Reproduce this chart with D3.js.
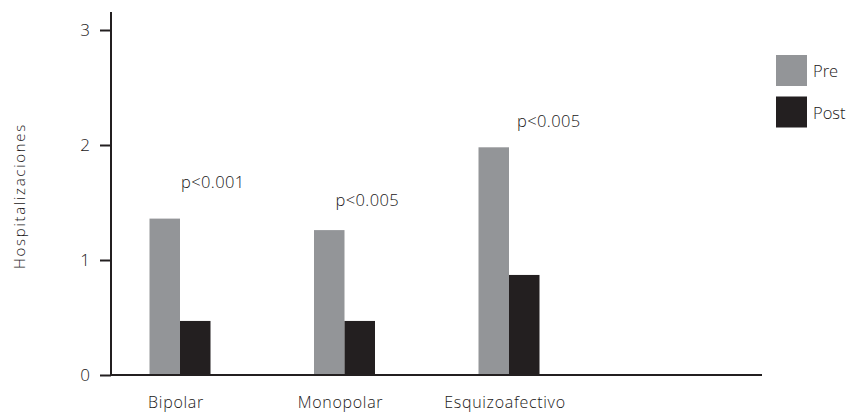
<!DOCTYPE html>
<html>
<head>
<meta charset="utf-8">
<script src="https://cdn.jsdelivr.net/npm/d3@7/dist/d3.min.js"></script>
<style>
  html, body { margin: 0; padding: 0; background: #fff; }
  svg { display: block; }
  text { font-family: "Open Sans", "DejaVu Sans", sans-serif; font-weight: 300; fill: #1a1718; }
</style>
</head>
<body>
<svg id="chart" width="851" height="412"></svg>
<script>
// Mean hospitalisations before and after treatment, by diagnosis
const categories = ["Bipolar", "Monopolar", "Esquizoafectivo"];
const series = ["Pre", "Post"];
const preValues = [1.36, 1.26, 1.98];
const postValues = [0.47, 0.47, 0.87];
const pLabels = ["p<0.001", "p<0.005", "p<0.005"];
const pLabelLevels = [1.63, 1.47, 2.16];
const yTicks = [0, 1, 2, 3];
const yTitle = "Hospitalizaciones";

const colors = { Pre: "#939598", Post: "#231f20" };

// Horizontal nudges for the significance labels, relative to each group centre
const pLabelDx = [1, -9, 8];

const svg = d3.select("#chart");
const plot = { left: 111, right: 762, top: 12, bottom: 375 };

const y = d3.scaleLinear().domain([0, 3]).range([plot.bottom, 30]);

// Three groups spaced evenly, with room left over at the right end of the axis
const step = 164.5;
const x = d3.scaleBand()
  .domain(categories)
  .range([180 - step / 2, 180 - step / 2 + step * categories.length])
  .paddingInner(0).paddingOuter(0);
const xSub = d3.scaleBand().domain(series).range([0, 61]).padding(0);
const centre = c => x(c) + x.bandwidth() / 2;

const rows = categories.map((c, i) => ({ cat: c, Pre: preValues[i], Post: postValues[i] }));

// Bars
const groups = svg.append("g").selectAll("g")
  .data(rows).join("g")
  .attr("transform", d => `translate(${centre(d.cat) - 30.5},0)`);

groups.selectAll("rect")
  .data(d => series.map(s => ({ key: s, value: d[s] })))
  .join("rect")
  .attr("x", d => xSub(d.key))
  .attr("width", xSub.bandwidth())
  .attr("y", d => y(d.value))
  .attr("height", d => y(0) - y(d.value))
  .attr("fill", d => colors[d.key]);

// Significance labels
svg.append("g").selectAll("text")
  .data(categories.map((c, i) => ({ cat: c, label: pLabels[i], level: pLabelLevels[i], dx: pLabelDx[i] })))
  .join("text")
  .attr("x", d => centre(d.cat) + d.dx)
  .attr("y", d => y(d.level))
  .attr("text-anchor", "start")
  .attr("font-size", 16.5)
  .attr("letter-spacing", 0.4)
  .text(d => d.label);

// Y axis
const yAxis = svg.append("g")
  .attr("transform", `translate(${plot.left},0)`)
  .call(d3.axisLeft(y).tickValues(yTicks).tickFormat(d3.format("d")).tickSize(11).tickPadding(10));
yAxis.select(".domain").remove();
yAxis.selectAll(".tick line").attr("stroke", "#231f20").attr("stroke-width", 2);
yAxis.selectAll(".tick text")
  .attr("font-size", 17)
  .attr("font-family", null)
  .attr("fill", null);
svg.append("line")
  .attr("x1", plot.left).attr("x2", plot.left)
  .attr("y1", plot.top).attr("y2", plot.bottom + 1)
  .attr("stroke", "#231f20").attr("stroke-width", 2);

// X axis baseline and category labels
svg.append("line")
  .attr("x1", plot.left - 1).attr("x2", plot.right)
  .attr("y1", plot.bottom).attr("y2", plot.bottom)
  .attr("stroke", "#231f20").attr("stroke-width", 2);

svg.append("g").selectAll("text")
  .data(categories)
  .join("text")
  .attr("x", d => centre(d) - 4)
  .attr("y", 408)
  .attr("text-anchor", "middle")
  .attr("font-size", 16)
  .attr("letter-spacing", 0.7)
  .text(d => d);

// Y axis title
svg.append("text")
  .attr("transform", "translate(25,196) rotate(-90)")
  .attr("text-anchor", "middle")
  .attr("font-size", 15)
  .attr("letter-spacing", 1.7)
  .text(yTitle);

// Legend
const legend = svg.append("g").attr("transform", "translate(776,55)");
const li = legend.selectAll("g").data(series).join("g")
  .attr("transform", (d, i) => `translate(0,${i * 41.5})`);
li.append("rect").attr("width", 31).attr("height", 31).attr("fill", d => colors[d]);
li.append("text")
  .attr("x", 37).attr("y", 22)
  .attr("font-size", 16.5)
  .text(d => d);
</script>
</body>
</html>
